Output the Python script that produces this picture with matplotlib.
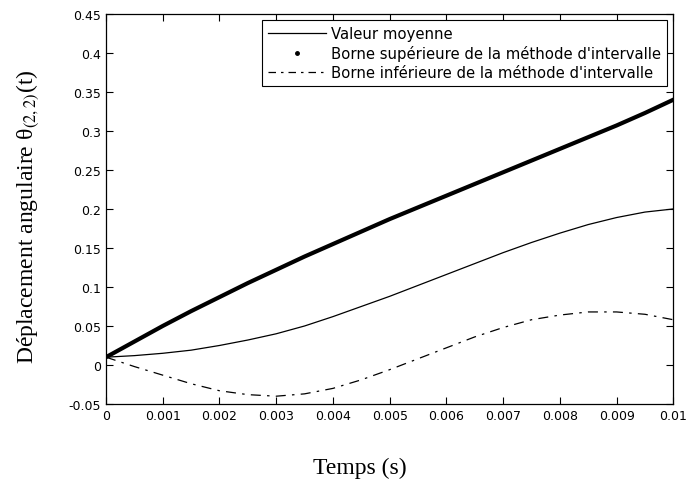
import numpy as np
import matplotlib.pyplot as plt
from matplotlib.lines import Line2D

plt.rcParams['mathtext.fontset'] = 'stix'

# values
t = [0, 0.0005, 0.001, 0.0015, 0.002, 0.0025, 0.003, 0.0035, 0.004, 0.0045, 0.005,
     0.0055, 0.006, 0.0065, 0.007, 0.0075, 0.008, 0.0085, 0.009, 0.0095, 0.01]
moyenne = [0.010, 0.012, 0.015, 0.019, 0.025, 0.032, 0.040, 0.050, 0.062, 0.075, 0.088,
           0.102, 0.116, 0.130, 0.144, 0.157, 0.169, 0.180, 0.189, 0.196, 0.200]
borne_sup = [0.010, 0.030, 0.050, 0.069, 0.087, 0.105, 0.122, 0.139, 0.155, 0.171, 0.187,
             0.202, 0.217, 0.232, 0.247, 0.262, 0.277, 0.292, 0.307, 0.323, 0.340]
borne_inf = [0.010, -0.002, -0.013, -0.024, -0.033, -0.038, -0.040, -0.037, -0.030, -0.019, -0.006,
             0.008, 0.022, 0.036, 0.048, 0.058, 0.064, 0.068, 0.068, 0.065, 0.058]

xticks = np.arange(0, 0.0101, 0.001)
xticklabels = ['0', '0.001', '0.002', '0.003', '0.004', '0.005', '0.006', '0.007', '0.008', '0.009', '0.01']
yticks = np.arange(-0.05, 0.451, 0.05)
yticklabels = ['-0.05', '0', '0.05', '0.1', '0.15', '0.2', '0.25', '0.3', '0.35', '0.4', '0.45']

fig = plt.figure(figsize=(6.86, 4.81), dpi=100)
ax = fig.add_axes([0.1545, 0.158, 0.827, 0.811])

ax.plot(t, moyenne, color='black', lw=0.9)
ax.plot(t, borne_sup, color='black', lw=3.0)
ax.plot(t, borne_inf, color='black', lw=0.9, linestyle=(0, (8, 5, 2, 5)))

handles = [
    Line2D([], [], color='black', lw=0.9),
    Line2D([], [], color='black', linestyle='none', marker='.', markersize=5),
    Line2D([], [], color='black', lw=0.9, linestyle=(0, (6, 4, 2, 4))),
]
labels = ['Valeur moyenne',
          'Borne supérieure de la méthode d\'intervalle',
          'Borne inférieure de la méthode d\'intervalle']
leg = ax.legend(handles, labels, loc='upper right', fancybox=False,
                framealpha=1, edgecolor='black', borderaxespad=0.4,
                handlelength=3.9, handletextpad=0.35, labelspacing=0.28, borderpad=0.4,
                prop={'family': 'DejaVu Sans', 'size': 10.7})
leg.get_frame().set_linewidth(0.8)

ax.set_xlim(0, 0.01)
ax.set_ylim(-0.05, 0.45)
ax.set_xticks(xticks)
ax.set_xticklabels(xticklabels, family='DejaVu Sans', fontsize=9)
ax.set_yticks(yticks)
ax.set_yticklabels(yticklabels, family='DejaVu Sans', fontsize=9)
ax.tick_params(direction='in', top=True, right=True, length=5, width=0.8)
for s in ax.spines.values():
    s.set_linewidth(0.9)

ax.set_xlabel('Temps (s)', family='Liberation Serif', fontsize=17)
ax.set_ylabel('Déplacement angulaire θ$_{(2,2)}$(t)', family='Liberation Serif', fontsize=17)
ax.xaxis.set_label_coords(0.448, -0.135)
ax.yaxis.set_label_coords(-0.115, 0.482)

fig.savefig('out.png', dpi=100)
